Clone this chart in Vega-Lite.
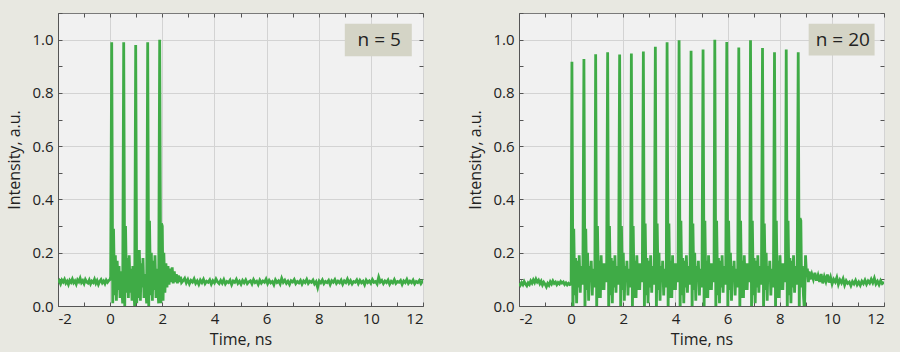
{
"$schema":"https://vega.github.io/schema/vega-lite/v6.json",
"background":"#e8e8e1",
"padding":{"left":6,"top":12,"right":16,"bottom":4},
"config":{"view":{"fill":"#f1f1f1","stroke":"#7a7a7a","strokeWidth":1},"font":"Open Sans",
 "axis":{"labelFont":"Open Sans","titleFont":"Open Sans","labelColor":"#222","titleColor":"#222","labelFontSize":15,"titleFontSize":16,"titleFontWeight":"normal","domainColor":"#555","tickColor":"#555","gridColor":"#d3d3d3"}},
"datasets":{
"a":[
{"t":-2.00,"v":0.088},{"t":-1.95,"v":0.095},{"t":-1.90,"v":0.083},{"t":-1.85,"v":0.097},{"t":-1.80,"v":0.090},{"t":-1.75,"v":0.100},{"t":-1.70,"v":0.086},{"t":-1.65,"v":0.093},{"t":-1.60,"v":0.081},{"t":-1.55,"v":0.096},{"t":-1.50,"v":0.089},{"t":-1.45,"v":0.101},{"t":-1.40,"v":0.087},{"t":-1.35,"v":0.094},{"t":-1.30,"v":0.082},{"t":-1.25,"v":0.098},{"t":-1.20,"v":0.091},{"t":-1.15,"v":0.104},{"t":-1.10,"v":0.088},{"t":-1.05,"v":0.095},{"t":-1.00,"v":0.084},{"t":-0.95,"v":0.099},{"t":-0.90,"v":0.090},{"t":-0.85,"v":0.086},{"t":-0.80,"v":0.097},{"t":-0.75,"v":0.083},{"t":-0.70,"v":0.093},{"t":-0.65,"v":0.088},{"t":-0.60,"v":0.100},{"t":-0.55,"v":0.085},{"t":-0.50,"v":0.095},{"t":-0.45,"v":0.081},{"t":-0.40,"v":0.092},{"t":-0.35,"v":0.099},{"t":-0.30,"v":0.087},{"t":-0.25,"v":0.094},{"t":-0.20,"v":0.084},{"t":-0.15,"v":0.097},{"t":-0.10,"v":0.089},{"t":-0.05,"v":0.096},{"t":0.00,"v":0.10},{"t":0.02,"v":0.11},
{"t":0.06,"v":0.99},{"t":0.10,"v":0.01},{"t":0.13,"v":0.29},{"t":0.17,"v":0.04},{"t":0.20,"v":0.19},{"t":0.24,"v":0.02},{"t":0.27,"v":0.17},{"t":0.31,"v":0.06},{"t":0.34,"v":0.15},{"t":0.38,"v":0.03},{"t":0.41,"v":0.13},{"t":0.45,"v":0.07},{"t":0.48,"v":0.01},
{"t":0.52,"v":0.99},{"t":0.56,"v":0.0},{"t":0.59,"v":0.30},{"t":0.63,"v":0.05},{"t":0.66,"v":0.18},{"t":0.70,"v":0.03},{"t":0.73,"v":0.19},{"t":0.77,"v":0.05},{"t":0.80,"v":0.14},{"t":0.84,"v":0.02},{"t":0.87,"v":0.15},{"t":0.91,"v":0.06},{"t":0.94,"v":0.0},
{"t":0.98,"v":0.98},{"t":1.02,"v":0.01},{"t":1.05,"v":0.21},{"t":1.09,"v":0.03},{"t":1.12,"v":0.21},{"t":1.16,"v":0.02},{"t":1.19,"v":0.16},{"t":1.23,"v":0.07},{"t":1.26,"v":0.18},{"t":1.30,"v":0.03},{"t":1.33,"v":0.12},{"t":1.37,"v":0.06},{"t":1.40,"v":0.01},
{"t":1.44,"v":0.99},{"t":1.48,"v":0.0},{"t":1.51,"v":0.32},{"t":1.55,"v":0.04},{"t":1.58,"v":0.20},{"t":1.62,"v":0.02},{"t":1.65,"v":0.17},{"t":1.69,"v":0.06},{"t":1.72,"v":0.19},{"t":1.76,"v":0.03},{"t":1.79,"v":0.14},{"t":1.83,"v":0.07},{"t":1.86,"v":0.01},
{"t":1.90,"v":1.0},{"t":1.94,"v":0.01},{"t":1.97,"v":0.31},{"t":2.00,"v":0.30},{"t":2.03,"v":0.02},{"t":2.06,"v":0.20},{"t":2.10,"v":0.05},{"t":2.14,"v":0.16},{"t":2.18,"v":0.07},{"t":2.22,"v":0.15},{"t":2.26,"v":0.08},{"t":2.30,"v":0.14},{"t":2.34,"v":0.09},{"t":2.38,"v":0.145},{"t":2.42,"v":0.085},{"t":2.46,"v":0.13},{"t":2.50,"v":0.09},{"t":2.54,"v":0.12},{"t":2.58,"v":0.085},{"t":2.62,"v":0.115},{"t":2.66,"v":0.09},{"t":2.70,"v":0.11},{"t":2.74,"v":0.088},
{"t":2.80,"v":0.095},{"t":2.86,"v":0.104},{"t":2.92,"v":0.087},{"t":2.98,"v":0.099},{"t":3.04,"v":0.083},{"t":3.10,"v":0.096},{"t":3.16,"v":0.090},{"t":3.22,"v":0.102},{"t":3.28,"v":0.085},{"t":3.34,"v":0.094},{"t":3.40,"v":0.081},{"t":3.46,"v":0.097},{"t":3.52,"v":0.088},{"t":3.58,"v":0.100},{"t":3.64,"v":0.084},{"t":3.70,"v":0.093},{"t":3.76,"v":0.089},{"t":3.82,"v":0.098},{"t":3.88,"v":0.082},{"t":3.94,"v":0.095},{"t":4.00,"v":0.087},{"t":4.06,"v":0.101},{"t":4.12,"v":0.090},{"t":4.18,"v":0.084},{"t":4.24,"v":0.096},{"t":4.30,"v":0.086},{"t":4.36,"v":0.099},{"t":4.42,"v":0.083},{"t":4.48,"v":0.092},{"t":4.54,"v":0.088},{"t":4.60,"v":0.097},{"t":4.66,"v":0.080},{"t":4.72,"v":0.094},{"t":4.78,"v":0.089},{"t":4.84,"v":0.100},{"t":4.90,"v":0.085},{"t":4.96,"v":0.093},{"t":5.02,"v":0.082},{"t":5.08,"v":0.096},{"t":5.14,"v":0.087},{"t":5.20,"v":0.098},{"t":5.26,"v":0.084},{"t":5.32,"v":0.091},{"t":5.38,"v":0.095},{"t":5.44,"v":0.083},{"t":5.50,"v":0.099},{"t":5.56,"v":0.088},{"t":5.62,"v":0.093},{"t":5.68,"v":0.081},{"t":5.74,"v":0.097},{"t":5.80,"v":0.086},{"t":5.86,"v":0.094},{"t":5.92,"v":0.089},{"t":5.98,"v":0.101},{"t":6.04,"v":0.084},{"t":6.10,"v":0.096},{"t":6.16,"v":0.087},{"t":6.22,"v":0.092},{"t":6.28,"v":0.080},{"t":6.34,"v":0.098},{"t":6.40,"v":0.088},{"t":6.46,"v":0.094},{"t":6.52,"v":0.083},{"t":6.58,"v":0.104},{"t":6.64,"v":0.089},{"t":6.70,"v":0.097},{"t":6.76,"v":0.085},{"t":6.82,"v":0.093},{"t":6.88,"v":0.081},{"t":6.94,"v":0.095},{"t":7.00,"v":0.090},{"t":7.06,"v":0.099},{"t":7.12,"v":0.084},{"t":7.18,"v":0.092},{"t":7.24,"v":0.087},{"t":7.30,"v":0.096},{"t":7.36,"v":0.082},{"t":7.42,"v":0.094},{"t":7.48,"v":0.088},{"t":7.54,"v":0.100},{"t":7.60,"v":0.085},{"t":7.66,"v":0.093},{"t":7.72,"v":0.089},{"t":7.78,"v":0.097},{"t":7.84,"v":0.083},{"t":7.90,"v":0.091},{"t":7.96,"v":0.070},{"t":8.02,"v":0.094},{"t":8.08,"v":0.087},{"t":8.14,"v":0.098},{"t":8.20,"v":0.084},{"t":8.26,"v":0.092},{"t":8.32,"v":0.088},{"t":8.38,"v":0.096},{"t":8.44,"v":0.081},{"t":8.50,"v":0.095},{"t":8.56,"v":0.089},{"t":8.62,"v":0.099},{"t":8.68,"v":0.085},{"t":8.74,"v":0.093},{"t":8.80,"v":0.087},{"t":8.86,"v":0.097},{"t":8.92,"v":0.082},{"t":8.98,"v":0.094},{"t":9.04,"v":0.088},{"t":9.10,"v":0.101},{"t":9.16,"v":0.086},{"t":9.22,"v":0.095},{"t":9.28,"v":0.083},{"t":9.34,"v":0.092},{"t":9.40,"v":0.089},{"t":9.46,"v":0.098},{"t":9.52,"v":0.084},{"t":9.58,"v":0.096},{"t":9.64,"v":0.087},{"t":9.70,"v":0.093},{"t":9.76,"v":0.080},{"t":9.82,"v":0.097},{"t":9.88,"v":0.088},{"t":9.94,"v":0.094},{"t":10.00,"v":0.085},{"t":10.06,"v":0.099},{"t":10.12,"v":0.089},{"t":10.18,"v":0.092},{"t":10.24,"v":0.083},{"t":10.30,"v":0.108},{"t":10.36,"v":0.090},{"t":10.42,"v":0.096},{"t":10.48,"v":0.084},{"t":10.54,"v":0.094},{"t":10.60,"v":0.088},{"t":10.66,"v":0.097},{"t":10.72,"v":0.082},{"t":10.78,"v":0.093},{"t":10.84,"v":0.087},{"t":10.90,"v":0.099},{"t":10.96,"v":0.085},{"t":11.02,"v":0.092},{"t":11.08,"v":0.089},{"t":11.14,"v":0.096},{"t":11.20,"v":0.081},{"t":11.26,"v":0.094},{"t":11.32,"v":0.088},{"t":11.38,"v":0.100},{"t":11.44,"v":0.085},{"t":11.50,"v":0.093},{"t":11.56,"v":0.087},{"t":11.62,"v":0.097},{"t":11.68,"v":0.083},{"t":11.74,"v":0.092},{"t":11.80,"v":0.088},{"t":11.86,"v":0.096},{"t":11.92,"v":0.084},{"t":11.98,"v":0.093},{"t":12.00,"v":0.09}
],
"b":[
{"t":-2.00,"v":0.085},{"t":-1.95,"v":0.078},{"t":-1.90,"v":0.088},{"t":-1.85,"v":0.080},{"t":-1.80,"v":0.092},{"t":-1.75,"v":0.083},{"t":-1.70,"v":0.076},{"t":-1.65,"v":0.087},{"t":-1.60,"v":0.081},{"t":-1.55,"v":0.094},{"t":-1.50,"v":0.086},{"t":-1.45,"v":0.098},{"t":-1.40,"v":0.088},{"t":-1.35,"v":0.101},{"t":-1.30,"v":0.090},{"t":-1.25,"v":0.097},{"t":-1.20,"v":0.084},{"t":-1.15,"v":0.093},{"t":-1.10,"v":0.079},{"t":-1.05,"v":0.089},{"t":-1.00,"v":0.082},{"t":-0.95,"v":0.072},{"t":-0.90,"v":0.085},{"t":-0.85,"v":0.078},{"t":-0.80,"v":0.091},{"t":-0.75,"v":0.083},{"t":-0.70,"v":0.094},{"t":-0.65,"v":0.085},{"t":-0.60,"v":0.090},{"t":-0.55,"v":0.080},{"t":-0.50,"v":0.088},{"t":-0.45,"v":0.083},{"t":-0.40,"v":0.092},{"t":-0.35,"v":0.086},{"t":-0.30,"v":0.090},{"t":-0.25,"v":0.081},{"t":-0.20,"v":0.087},{"t":-0.15,"v":0.079},{"t":-0.10,"v":0.085},{"t":-0.05,"v":0.080},{"t":0.00,"v":0.082},
{"t":0.03,"v":0.917},{"t":0.07,"v":-0.03},{"t":0.10,"v":0.29},{"t":0.14,"v":0.04},{"t":0.17,"v":0.18},{"t":0.21,"v":0.01},{"t":0.24,"v":0.17},{"t":0.28,"v":0.07},{"t":0.31,"v":0.19},{"t":0.35,"v":0.05},{"t":0.38,"v":0.15},{"t":0.42,"v":0.08},{"t":0.45,"v":0.12},
{"t":0.49,"v":0.927},{"t":0.53,"v":-0.03},{"t":0.56,"v":0.29},{"t":0.60,"v":0.06},{"t":0.63,"v":0.20},{"t":0.67,"v":0.02},{"t":0.70,"v":0.15},{"t":0.74,"v":0.09},{"t":0.77,"v":0.17},{"t":0.81,"v":0.04},{"t":0.84,"v":0.14},{"t":0.88,"v":0.07},{"t":0.91,"v":0.13},
{"t":0.94,"v":0.945},{"t":0.98,"v":-0.02},{"t":1.01,"v":0.30},{"t":1.05,"v":0.03},{"t":1.08,"v":0.17},{"t":1.12,"v":0.03},{"t":1.15,"v":0.19},{"t":1.19,"v":0.06},{"t":1.22,"v":0.16},{"t":1.26,"v":0.06},{"t":1.29,"v":0.16},{"t":1.33,"v":0.09},{"t":1.36,"v":0.11},
{"t":1.40,"v":0.953},{"t":1.44,"v":-0.03},{"t":1.47,"v":0.30},{"t":1.51,"v":0.04},{"t":1.54,"v":0.18},{"t":1.58,"v":0.01},{"t":1.61,"v":0.17},{"t":1.65,"v":0.07},{"t":1.68,"v":0.19},{"t":1.72,"v":0.05},{"t":1.75,"v":0.15},{"t":1.79,"v":0.08},{"t":1.82,"v":0.12},
{"t":1.86,"v":0.944},{"t":1.90,"v":-0.03},{"t":1.93,"v":0.30},{"t":1.97,"v":0.06},{"t":2.00,"v":0.20},{"t":2.04,"v":0.02},{"t":2.07,"v":0.15},{"t":2.11,"v":0.09},{"t":2.14,"v":0.17},{"t":2.18,"v":0.04},{"t":2.21,"v":0.14},{"t":2.25,"v":0.07},{"t":2.28,"v":0.13},
{"t":2.31,"v":0.948},{"t":2.35,"v":-0.02},{"t":2.38,"v":0.30},{"t":2.42,"v":0.03},{"t":2.45,"v":0.17},{"t":2.49,"v":0.03},{"t":2.52,"v":0.19},{"t":2.56,"v":0.06},{"t":2.59,"v":0.16},{"t":2.63,"v":0.06},{"t":2.66,"v":0.16},{"t":2.70,"v":0.09},{"t":2.73,"v":0.11},
{"t":2.77,"v":0.955},{"t":2.81,"v":-0.03},{"t":2.84,"v":0.31},{"t":2.88,"v":0.04},{"t":2.91,"v":0.18},{"t":2.95,"v":0.01},{"t":2.98,"v":0.17},{"t":3.02,"v":0.07},{"t":3.05,"v":0.19},{"t":3.09,"v":0.05},{"t":3.12,"v":0.15},{"t":3.16,"v":0.08},{"t":3.19,"v":0.12},
{"t":3.23,"v":0.973},{"t":3.27,"v":-0.03},{"t":3.30,"v":0.31},{"t":3.34,"v":0.06},{"t":3.37,"v":0.20},{"t":3.41,"v":0.02},{"t":3.44,"v":0.15},{"t":3.48,"v":0.09},{"t":3.51,"v":0.17},{"t":3.55,"v":0.04},{"t":3.58,"v":0.14},{"t":3.62,"v":0.07},{"t":3.65,"v":0.13},
{"t":3.68,"v":0.99},{"t":3.72,"v":-0.02},{"t":3.75,"v":0.31},{"t":3.79,"v":0.03},{"t":3.82,"v":0.17},{"t":3.86,"v":0.03},{"t":3.89,"v":0.19},{"t":3.93,"v":0.06},{"t":3.96,"v":0.16},{"t":4.00,"v":0.06},{"t":4.03,"v":0.16},{"t":4.07,"v":0.09},{"t":4.10,"v":0.11},
{"t":4.14,"v":0.998},{"t":4.18,"v":-0.03},{"t":4.21,"v":0.32},{"t":4.25,"v":0.04},{"t":4.28,"v":0.18},{"t":4.32,"v":0.01},{"t":4.35,"v":0.17},{"t":4.39,"v":0.07},{"t":4.42,"v":0.19},{"t":4.46,"v":0.05},{"t":4.49,"v":0.15},{"t":4.53,"v":0.08},{"t":4.56,"v":0.12},
{"t":4.60,"v":0.958},{"t":4.64,"v":-0.03},{"t":4.67,"v":0.31},{"t":4.71,"v":0.06},{"t":4.74,"v":0.20},{"t":4.78,"v":0.02},{"t":4.81,"v":0.15},{"t":4.85,"v":0.09},{"t":4.88,"v":0.17},{"t":4.92,"v":0.04},{"t":4.95,"v":0.14},{"t":4.99,"v":0.07},{"t":5.02,"v":0.13},
{"t":5.06,"v":0.963},{"t":5.10,"v":-0.02},{"t":5.13,"v":0.32},{"t":5.17,"v":0.03},{"t":5.20,"v":0.17},{"t":5.24,"v":0.03},{"t":5.27,"v":0.19},{"t":5.31,"v":0.06},{"t":5.34,"v":0.16},{"t":5.38,"v":0.06},{"t":5.41,"v":0.16},{"t":5.45,"v":0.09},{"t":5.48,"v":0.11},
{"t":5.51,"v":1.0},{"t":5.55,"v":-0.03},{"t":5.58,"v":0.32},{"t":5.62,"v":0.04},{"t":5.65,"v":0.18},{"t":5.69,"v":0.01},{"t":5.72,"v":0.17},{"t":5.76,"v":0.07},{"t":5.79,"v":0.19},{"t":5.83,"v":0.05},{"t":5.86,"v":0.15},{"t":5.90,"v":0.08},{"t":5.93,"v":0.12},
{"t":5.97,"v":0.991},{"t":6.01,"v":-0.03},{"t":6.04,"v":0.32},{"t":6.08,"v":0.06},{"t":6.11,"v":0.20},{"t":6.15,"v":0.02},{"t":6.18,"v":0.15},{"t":6.22,"v":0.09},{"t":6.25,"v":0.17},{"t":6.29,"v":0.04},{"t":6.32,"v":0.14},{"t":6.36,"v":0.07},{"t":6.39,"v":0.13},
{"t":6.43,"v":0.97},{"t":6.47,"v":-0.02},{"t":6.50,"v":0.32},{"t":6.54,"v":0.03},{"t":6.57,"v":0.17},{"t":6.61,"v":0.03},{"t":6.64,"v":0.19},{"t":6.68,"v":0.06},{"t":6.71,"v":0.16},{"t":6.75,"v":0.06},{"t":6.78,"v":0.16},{"t":6.82,"v":0.09},{"t":6.85,"v":0.11},
{"t":6.88,"v":0.998},{"t":6.92,"v":-0.03},{"t":6.95,"v":0.32},{"t":6.99,"v":0.04},{"t":7.02,"v":0.18},{"t":7.06,"v":0.01},{"t":7.09,"v":0.17},{"t":7.13,"v":0.07},{"t":7.16,"v":0.19},{"t":7.20,"v":0.05},{"t":7.23,"v":0.15},{"t":7.27,"v":0.08},{"t":7.30,"v":0.12},
{"t":7.34,"v":0.969},{"t":7.38,"v":-0.03},{"t":7.41,"v":0.31},{"t":7.45,"v":0.06},{"t":7.48,"v":0.20},{"t":7.52,"v":0.02},{"t":7.55,"v":0.15},{"t":7.59,"v":0.09},{"t":7.62,"v":0.17},{"t":7.66,"v":0.04},{"t":7.69,"v":0.14},{"t":7.73,"v":0.07},{"t":7.76,"v":0.13},
{"t":7.80,"v":0.953},{"t":7.84,"v":-0.02},{"t":7.87,"v":0.32},{"t":7.91,"v":0.03},{"t":7.94,"v":0.17},{"t":7.98,"v":0.03},{"t":8.01,"v":0.19},{"t":8.05,"v":0.06},{"t":8.08,"v":0.16},{"t":8.12,"v":0.06},{"t":8.15,"v":0.16},{"t":8.19,"v":0.09},{"t":8.22,"v":0.11},
{"t":8.25,"v":0.963},{"t":8.29,"v":-0.03},{"t":8.32,"v":0.32},{"t":8.36,"v":0.04},{"t":8.39,"v":0.18},{"t":8.43,"v":0.01},{"t":8.46,"v":0.17},{"t":8.50,"v":0.07},{"t":8.53,"v":0.19},{"t":8.57,"v":0.05},{"t":8.60,"v":0.15},{"t":8.64,"v":0.08},{"t":8.67,"v":0.12},
{"t":8.71,"v":0.953},{"t":8.75,"v":-0.03},{"t":8.78,"v":0.33},{"t":8.81,"v":0.32},{"t":8.84,"v":0.07},{"t":8.87,"v":0.15},{"t":8.91,"v":0.04},{"t":8.95,"v":-0.02},{"t":8.99,"v":0.19},{"t":9.03,"v":0.11},{"t":9.06,"v":0.14},{"t":9.10,"v":0.09},{"t":9.13,"v":0.13},{"t":9.17,"v":0.10},
{"t":9.23,"v":0.12},{"t":9.29,"v":0.10},{"t":9.35,"v":0.125},{"t":9.41,"v":0.095},{"t":9.47,"v":0.115},{"t":9.53,"v":0.09},{"t":9.59,"v":0.12},{"t":9.65,"v":0.085},{"t":9.71,"v":0.11},{"t":9.77,"v":0.092},{"t":9.83,"v":0.118},{"t":9.89,"v":0.088},{"t":9.95,"v":0.108},{"t":10.01,"v":0.083},{"t":10.07,"v":0.10},{"t":10.13,"v":0.09},{"t":10.19,"v":0.107},{"t":10.25,"v":0.081},{"t":10.31,"v":0.098},{"t":10.37,"v":0.087},{"t":10.43,"v":0.102},{"t":10.49,"v":0.079},{"t":10.55,"v":0.095},{"t":10.61,"v":0.085},{"t":10.67,"v":0.09},{"t":10.73,"v":0.076},{"t":10.79,"v":0.092},{"t":10.85,"v":0.083},{"t":10.91,"v":0.096},{"t":10.97,"v":0.08},{"t":11.03,"v":0.09},{"t":11.09,"v":0.078},{"t":11.15,"v":0.093},{"t":11.21,"v":0.084},{"t":11.27,"v":0.097},{"t":11.33,"v":0.082},{"t":11.39,"v":0.094},{"t":11.45,"v":0.086},{"t":11.51,"v":0.10},{"t":11.57,"v":0.087},{"t":11.63,"v":0.104},{"t":11.69,"v":0.083},{"t":11.75,"v":0.093},{"t":11.81,"v":0.08},{"t":11.87,"v":0.095},{"t":11.93,"v":0.084},{"t":12.00,"v":0.09}
]
},
"spacing":96,
"bounds":"flush",
"hconcat":[
{"width":365,"height":293,
 "layer":[
  {"data":{"name":"a"},"mark":{"type":"line","color":"#3fab46","strokeWidth":2.8,"clip":true},
   "encoding":{
    "x":{"field":"t","type":"quantitative","scale":{"domain":[-2,12],"nice":false,"zero":false},"axis":{"orient":"bottom","values":[-2,0,2,4,6,8,10,12],"labelExpr":"'' + datum.value","title":"Time, ns","grid":true,"ticks":false,"domain":true,"labelPadding":5,"titlePadding":5}},
    "y":{"field":"v","type":"quantitative","scale":{"domain":[0,1.1],"nice":false,"zero":false},"axis":{"orient":"left","values":[0,0.2,0.4,0.6,0.8,1.0],"format":".1f","title":"Intensity, a.u.","grid":true,"ticks":false,"domain":true,"labelPadding":5,"titlePadding":9}}}},
  {"data":{"values":[{}]},"mark":{"type":"rect","fill":"#d4d4c6"},
   "encoding":{
    "x":{"datum":9.0,"type":"quantitative","scale":{"domain":[-2,12],"nice":false,"zero":false},"axis":{"orient":"top","values":[-2,-1,0,1,2,3,4,5,6,7,8,9,10,11,12],"labels":false,"domain":false,"grid":false,"title":null,"tickSize":-4}},
    "x2":{"datum":11.57},
    "y":{"datum":1.06,"type":"quantitative","scale":{"domain":[0,1.1],"nice":false,"zero":false},"axis":{"orient":"right","values":[0,0.1,0.2,0.3,0.4,0.5,0.6,0.7,0.8,0.9,1.0,1.1],"labels":false,"domain":false,"grid":false,"title":null,"tickSize":-4}},
    "y2":{"datum":0.9375}}},
  {"data":{"values":[{}]},"mark":{"type":"text","text":"n = 5","fontSize":19,"color":"#222","align":"center","baseline":"middle","font":"Open Sans"},
   "encoding":{
    "x":{"datum":10.32,"type":"quantitative","scale":{"domain":[-2,12],"nice":false,"zero":false},"axis":{"orient":"bottom","values":[-2,-1,0,1,2,3,4,5,6,7,8,9,10,11,12],"labels":false,"domain":false,"grid":false,"title":null,"tickSize":-4}},
    "y":{"datum":1.0,"type":"quantitative","scale":{"domain":[0,1.1],"nice":false,"zero":false},"axis":{"orient":"left","values":[0,0.1,0.2,0.3,0.4,0.5,0.6,0.7,0.8,0.9,1.0,1.1],"labels":false,"domain":false,"grid":false,"title":null,"tickSize":-4}}}}
 ],
 "resolve":{"axis":{"x":"independent","y":"independent"}}
},
{"width":365,"height":293,
 "layer":[
  {"data":{"name":"b"},"mark":{"type":"line","color":"#3fab46","strokeWidth":2.8,"clip":true},
   "encoding":{
    "x":{"field":"t","type":"quantitative","scale":{"domain":[-2,12],"nice":false,"zero":false},"axis":{"orient":"bottom","values":[-2,0,2,4,6,8,10,12],"labelExpr":"'' + datum.value","title":"Time, ns","grid":true,"ticks":false,"domain":true,"labelPadding":5,"titlePadding":5}},
    "y":{"field":"v","type":"quantitative","scale":{"domain":[0,1.1],"nice":false,"zero":false},"axis":{"orient":"left","values":[0,0.2,0.4,0.6,0.8,1.0],"format":".1f","title":"Intensity, a.u.","grid":true,"ticks":false,"domain":true,"labelPadding":5,"titlePadding":9}}}},
  {"data":{"values":[{}]},"mark":{"type":"rect","fill":"#d4d4c6"},
   "encoding":{
    "x":{"datum":9.11,"type":"quantitative","scale":{"domain":[-2,12],"nice":false,"zero":false},"axis":{"orient":"top","values":[-2,-1,0,1,2,3,4,5,6,7,8,9,10,11,12],"labels":false,"domain":false,"grid":false,"title":null,"tickSize":-4}},
    "x2":{"datum":11.64},
    "y":{"datum":1.06,"type":"quantitative","scale":{"domain":[0,1.1],"nice":false,"zero":false},"axis":{"orient":"right","values":[0,0.1,0.2,0.3,0.4,0.5,0.6,0.7,0.8,0.9,1.0,1.1],"labels":false,"domain":false,"grid":false,"title":null,"tickSize":-4}},
    "y2":{"datum":0.94}}},
  {"data":{"values":[{}]},"mark":{"type":"text","text":"n = 20","fontSize":19,"color":"#222","align":"center","baseline":"middle","font":"Open Sans"},
   "encoding":{
    "x":{"datum":10.42,"type":"quantitative","scale":{"domain":[-2,12],"nice":false,"zero":false},"axis":{"orient":"bottom","values":[-2,-1,0,1,2,3,4,5,6,7,8,9,10,11,12],"labels":false,"domain":false,"grid":false,"title":null,"tickSize":-4}},
    "y":{"datum":1.0,"type":"quantitative","scale":{"domain":[0,1.1],"nice":false,"zero":false},"axis":{"orient":"left","values":[0,0.1,0.2,0.3,0.4,0.5,0.6,0.7,0.8,0.9,1.0,1.1],"labels":false,"domain":false,"grid":false,"title":null,"tickSize":-4}}}}
 ],
 "resolve":{"axis":{"x":"independent","y":"independent"}}
}
]
}
